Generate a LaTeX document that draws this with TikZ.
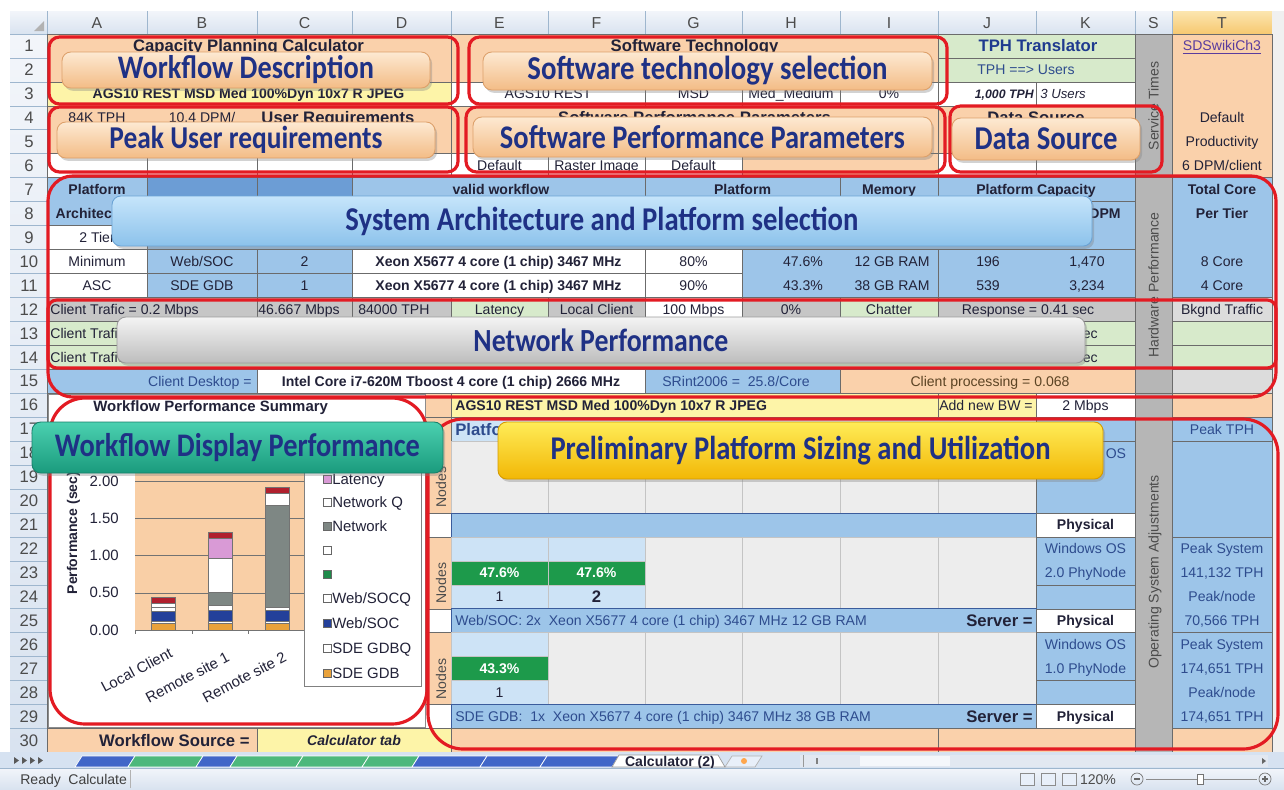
\documentclass[tikz,border=0pt]{standalone}
\usepackage{fontspec}
\usepackage{graphicx}
\setmainfont{Liberation Sans}
\newfontfamily\banfont{Carlito}
\usetikzlibrary{shadows}
\newdimen\pxu \pxu=0.02cm
\definecolor{peach}{HTML}{FAD1AB}
\definecolor{lyel}{HTML}{FDF4A8}
\definecolor{lgrn}{HTML}{D7EACB}
\definecolor{sblue}{HTML}{9DC5E9}
\definecolor{dblue}{HTML}{6C9DD5}
\definecolor{sgray}{HTML}{B6B6B6}
\definecolor{rgray}{HTML}{C6C6C6}
\definecolor{lgray}{HTML}{DCDCDC}
\definecolor{vlgray}{HTML}{EDEDED}
\definecolor{lblue}{HTML}{CDE3F6}
\definecolor{ggreen}{HTML}{1D9A4B}
\definecolor{txt}{HTML}{222238}
\definecolor{btxt}{HTML}{2E4C8E}
\definecolor{tphb}{HTML}{1F3A8F}
\definecolor{brn}{HTML}{5C4424}
\definecolor{annred}{HTML}{E31B23}
\definecolor{bantxt}{HTML}{1F3185}
\definecolor{hdrA}{HTML}{F2F5FA}
\definecolor{hdrB}{HTML}{D9E3F0}
\definecolor{hline}{HTML}{9EB6CE}
\definecolor{bord}{HTML}{6B6B6B}
\definecolor{lline}{HTML}{C4C4C4}
\definecolor{navyl}{HTML}{3B5C9C}
\definecolor{plotbg}{HTML}{F9CFA6}
\definecolor{linkc}{HTML}{5A3C9E}
\definecolor{tabbg}{HTML}{D6E2F1}
\definecolor{bpT}{HTML}{FDE9D2}\definecolor{bpB}{HTML}{F3BC86}\definecolor{bpD}{HTML}{DDA06A}
\definecolor{bbT}{HTML}{C6E5FB}\definecolor{bbB}{HTML}{8CC2EB}\definecolor{bbD}{HTML}{6AA3D5}
\definecolor{bgT}{HTML}{F4F4F4}\definecolor{bgB}{HTML}{BDBDBD}\definecolor{bgD}{HTML}{9C9C9C}
\definecolor{btT}{HTML}{4BD0B0}\definecolor{btB}{HTML}{1A9B7D}\definecolor{btD}{HTML}{17806A}
\definecolor{byT}{HTML}{FFEC58}\definecolor{byB}{HTML}{F2B705}\definecolor{byD}{HTML}{D49A00}
\definecolor{hTT}{HTML}{FCE6B0}\definecolor{hTB}{HTML}{F6C870}
\definecolor{cred}{HTML}{B0202E}\definecolor{cnavy}{HTML}{23409A}\definecolor{corange}{HTML}{E9A23B}
\definecolor{cgray}{HTML}{7E8784}\definecolor{cpink}{HTML}{D99AD6}\definecolor{cgreen}{HTML}{1E8A4A}
\definecolor{tabblue}{HTML}{4166C8}\definecolor{tabgreen}{HTML}{4DB87C}
\definecolor{scr}{HTML}{E2E8F1}\definecolor{thumb}{HTML}{F4F7FB}\definecolor{icon}{HTML}{E8EFF9}
\newcommand\rowT[1]{{10.05+23.95*#1}}
\newcommand\rowB[1]{{34+23.95*#1}}
\newcommand\rowC[1]{{22.025+23.95*#1}}
\def\cxA{47}\def\cxB{147}\def\cxC{257}\def\cxD{352}\def\cxE{451}\def\cxF{548}\def\cxG{645}
\def\cxH{742}\def\cxI{840}\def\cxJ{938}\def\cxK{1036}\def\cxS{1135}\def\cxT{1172}\def\cxZ{1272}
\newcommand\cfill[5]{\path[#1] (#2,\rowT{#4}) rectangle (#3,\rowB{#5});}
\newcounter{nn}
\newcommand\ct[4][]{\stepcounter{nn}\node[ct,#1] (t\arabic{nn}) at ({#2},\rowC{#3}) {#4};}
\newcommand\cxy[4][]{\stepcounter{nn}\node[ct,#1] (t\arabic{nn}) at ({#2},{#3}) {#4};}
\newcommand\banner[8]{\node[ban,#2,minimum width=#5\pxu,minimum height=#6\pxu] (#1) at (#3,#4) {\resizebox{#7\pxu}{!}{\scalebox{1}[1.16]{\banfont\bfseries #8}}};}
\newcommand\cbar[4]{\path[fill=#4,draw=black!55,line width=0.3pt] (#1,#2) rectangle ({#1+24},#3);}
\begin{document}
\begin{tikzpicture}[x=0.02cm,y=-0.02cm,
 ct/.style={inner sep=0pt,text height=5.7pt,text depth=0pt,font=\fontsize{8}{9}\selectfont,text=txt},
 bf/.style={font=\fontsize{8}{9}\selectfont\bfseries},
 hd/.style={font=\fontsize{9.5}{11}\selectfont\bfseries,text height=6.8pt},
 cb/.style={draw=bord,line width=0.35pt},
 cl/.style={draw=lline,line width=0.35pt},
 redbox/.style={draw=annred,line width=1.8pt},
 ban/.style={rounded corners=5pt,inner sep=0pt,text=bantxt,line width=0.5pt,
   drop shadow={shadow xshift=1.2pt,shadow yshift=-1.6pt,opacity=0.35}},
 bpeach/.style={top color=bpT,bottom color=bpB,draw=bpD},
 bblue/.style={top color=bbT,bottom color=bbB,draw=bbD},
 bgray/.style={top color=bgT,bottom color=bgB,draw=bgD},
 bteal/.style={top color=btT,bottom color=btB,draw=btD},
 byel/.style={top color=byT,bottom color=byB,draw=byD},
 hdtx/.style={inner sep=0pt,font=\fontsize{9}{10}\selectfont,text=black!70},
 vt/.style={rotate=90,text=black!70},
 xl/.style={rotate=28,anchor=north east,font=\fontsize{8.5}{9}\selectfont}]
\useasboundingbox (0,0) rectangle (1284,789);
\fill[white] (0,0) rectangle (1284,789);
% ---------- headers ----------
\fill[top color=hdrA,bottom color=hdrB] (10,11) rectangle (1272,34);
\fill[top color=hdrA,bottom color=hdrB] (10,34) rectangle (47,752);
\fill[top color=hTT,bottom color=hTB] (1172,11) rectangle (1272,34);
\fill[black!30] (44,31) -- (44,21) -- (34,31) -- cycle;
\foreach \x in {47,147,257,352,451,548,645,742,840,938,1036,1135,1172,1272} \draw[hline,line width=0.4pt] (\x,11) -- (\x,34);
\draw[hline,line width=0.5pt] (10,34) -- (1272,34);
\draw[hline,line width=0.5pt] (47,11) -- (47,752);
\foreach \r in {1,...,30} \draw[hline,line width=0.4pt] (10,\rowB{\r}) -- (47,\rowB{\r});
\foreach \l/\x in {A/97,B/202,C/304.5,D/401.5,E/499.5,F/596.5,G/693.5,H/791,I/889,J/987,K/1085.5,S/1153.5,T/1222}
  \node[hdtx] (ch\l) at (\x,23) {\l};
\foreach \r in {1,...,30} \node[hdtx,font=\fontsize{9.5}{10}\selectfont] (rh\r) at (29,\rowC{\r}) {\r};
\fill[black!6] (1272,11) rectangle (1284,752);
% ---------- rows 1-6 ----------
\cfill{fill=peach,cb}{\cxA}{\cxE}{1}{2}
\cfill{fill=peach,cb}{\cxE}{\cxJ}{1}{2}
\cfill{fill=lgrn,cb}{\cxJ}{\cxS}{1}{1}
\cfill{fill=lgrn,cb}{\cxJ}{\cxS}{2}{2}
\cfill{fill=sgray,cb}{\cxS}{\cxT}{1}{6}
\cfill{fill=peach,cb}{\cxT}{\cxZ}{1}{6}
\cfill{fill=lyel,cb}{\cxA}{\cxE}{3}{3}
\cfill{fill=white,cb}{\cxE}{\cxG}{3}{3}
\cfill{fill=white,cb}{\cxG}{\cxH}{3}{3}
\cfill{fill=white,cb}{\cxH}{\cxI}{3}{3}
\cfill{fill=white,cb}{\cxI}{\cxJ}{3}{3}
\cfill{fill=white,cb}{\cxJ}{\cxK}{3}{3}
\cfill{fill=white,cb}{\cxK}{\cxS}{3}{3}
\cfill{fill=peach,cb}{\cxA}{\cxE}{4}{5}
\cfill{fill=white,cb}{\cxA}{\cxB}{6}{6}
\cfill{fill=white,cb}{\cxB}{\cxC}{6}{6}
\cfill{fill=white,cb}{\cxC}{\cxD}{6}{6}
\cfill{fill=white,cb}{\cxD}{\cxE}{6}{6}
\cfill{fill=peach,cb}{\cxE}{\cxJ}{4}{5}
\cfill{fill=white,cb}{\cxE}{\cxF}{6}{6}
\cfill{fill=white,cb}{\cxF}{\cxG}{6}{6}
\cfill{fill=white,cb}{\cxG}{\cxH}{6}{6}
\cfill{fill=peach,cb}{\cxH}{\cxJ}{6}{6}
\cfill{fill=peach,cb}{\cxJ}{\cxS}{4}{5}
\cfill{fill=white,cb}{\cxJ}{\cxK}{6}{6}
\cfill{fill=white,cb}{\cxK}{\cxS}{6}{6}
% ---------- rows 7-11 ----------
\cfill{fill=sblue,cb}{\cxA}{\cxS}{7}{11}
\cfill{fill=sblue,cb}{\cxA}{\cxB}{7}{8}
\cfill{fill=dblue,cb}{\cxB}{\cxC}{7}{7}
\cfill{fill=dblue,cb}{\cxC}{\cxD}{7}{7}
\cfill{fill=sblue,cb}{\cxD}{\cxG}{7}{7}
\cfill{fill=sblue,cb}{\cxG}{\cxI}{7}{7}
\cfill{fill=sblue,cb}{\cxI}{\cxJ}{7}{7}
\cfill{fill=sblue,cb}{\cxJ}{\cxS}{7}{7}
\cfill{fill=white,cb}{\cxA}{\cxB}{9}{9}
\cfill{fill=white,cb}{\cxA}{\cxB}{10}{10}
\cfill{fill=white,cb}{\cxA}{\cxB}{11}{11}
\cfill{fill=sblue,cb}{\cxB}{\cxC}{10}{10}
\cfill{fill=sblue,cb}{\cxB}{\cxC}{11}{11}
\cfill{fill=sblue,cb}{\cxC}{\cxD}{10}{10}
\cfill{fill=sblue,cb}{\cxC}{\cxD}{11}{11}
\cfill{fill=white,cb}{\cxD}{\cxG}{10}{10}
\cfill{fill=white,cb}{\cxD}{\cxG}{11}{11}
\cfill{fill=white,cb}{\cxG}{\cxH}{10}{10}
\cfill{fill=white,cb}{\cxG}{\cxH}{11}{11}
\cfill{fill=sblue,cb}{\cxH}{\cxJ}{10}{11}
\cfill{fill=sblue,cb}{\cxJ}{\cxS}{10}{11}
\cfill{fill=sgray,cb}{\cxS}{\cxT}{7}{15}
\cfill{fill=sblue,cb}{\cxT}{\cxZ}{7}{11}
% ---------- rows 12-15 ----------
\cfill{fill=rgray,cb}{\cxA}{\cxC}{12}{12}
\cfill{fill=rgray,cb}{\cxC}{\cxD}{12}{12}
\cfill{fill=rgray,cb}{\cxD}{\cxE}{12}{12}
\cfill{fill=lgrn,cb}{\cxE}{\cxF}{12}{12}
\cfill{fill=rgray,cb}{\cxF}{\cxG}{12}{12}
\cfill{fill=white,cb}{\cxG}{\cxH}{12}{12}
\cfill{fill=rgray,cb}{\cxH}{\cxI}{12}{12}
\cfill{fill=lgrn,cb}{\cxI}{\cxJ}{12}{12}
\cfill{fill=rgray,cb}{\cxJ}{\cxS}{12}{12}
\cfill{fill=lgray,cb}{\cxT}{\cxZ}{12}{12}
\cfill{fill=lgrn,cb}{\cxA}{\cxS}{13}{13}
\cfill{fill=lgrn,cb}{\cxA}{\cxS}{14}{14}
\cfill{fill=lgrn,cb}{\cxT}{\cxZ}{13}{13}
\cfill{fill=lgrn,cb}{\cxT}{\cxZ}{14}{14}
\cfill{fill=sblue,cb}{\cxA}{\cxC}{15}{15}
\cfill{fill=white,cb}{\cxC}{\cxG}{15}{15}
\cfill{fill=sblue,cb}{\cxG}{\cxI}{15}{15}
\cfill{fill=peach,cb}{\cxI}{\cxS}{15}{15}
\cfill{fill=lgray,cb}{\cxT}{\cxZ}{15}{15}
% ---------- rows 16-30 ----------
\cfill{fill=white,cb}{\cxA}{425}{16}{29}
\cfill{fill=peach,cb}{425}{\cxE}{16}{16}
\cfill{fill=peach,cb}{425}{\cxE}{17}{20}
\cfill{fill=white,cb}{425}{\cxE}{21}{21}
\cfill{fill=peach,cb}{425}{\cxE}{22}{24}
\cfill{fill=white,cb}{425}{\cxE}{25}{25}
\cfill{fill=peach,cb}{425}{\cxE}{26}{28}
\cfill{fill=white,cb}{425}{\cxE}{29}{29}
\cfill{fill=lyel,cb}{\cxE}{\cxJ}{16}{16}
\cfill{fill=lyel,cb}{\cxJ}{\cxK}{16}{16}
\cfill{fill=white,cb}{\cxK}{\cxS}{16}{16}
\cfill{fill=sgray,cb}{\cxS}{\cxT}{16}{30}
\cfill{fill=peach,cb}{\cxT}{\cxZ}{16}{16}
\cfill{fill=lblue,cb}{\cxE}{\cxK}{17}{17}
\cfill{fill=sblue,cb}{\cxK}{\cxS}{17}{17}
\foreach \a/\b in {451/548,548/645,645/742,742/840,840/938,938/1036}{\cfill{fill=vlgray,cl}{\a}{\b}{18}{20}}
\cfill{fill=sblue,cb}{\cxK}{\cxS}{18}{20}
\cfill{fill=sblue,draw=navyl,line width=0.5pt}{\cxE}{\cxK}{21}{21}
\cfill{fill=white,cb}{\cxK}{\cxS}{21}{21}
\cfill{fill=lblue,cl}{\cxE}{\cxF}{22}{22}
\cfill{fill=lblue,cl}{\cxF}{\cxG}{22}{22}
\cfill{fill=ggreen,cl}{\cxE}{\cxF}{23}{23}
\cfill{fill=ggreen,cl}{\cxF}{\cxG}{23}{23}
\cfill{fill=lblue,cl}{\cxE}{\cxF}{24}{24}
\cfill{fill=lblue,cl}{\cxF}{\cxG}{24}{24}
\foreach \a/\b in {645/742,742/840,840/938,938/1036}{\cfill{fill=vlgray,cl}{\a}{\b}{22}{24}}
\cfill{fill=sblue,cb}{\cxK}{\cxS}{22}{23}
\cfill{fill=sblue,cb}{\cxK}{\cxS}{24}{24}
\cfill{fill=sblue,draw=navyl,line width=0.5pt}{\cxE}{\cxK}{25}{25}
\cfill{fill=white,cb}{\cxK}{\cxS}{25}{25}
\cfill{fill=lblue,cl}{\cxE}{\cxF}{26}{26}
\cfill{fill=ggreen,cl}{\cxE}{\cxF}{27}{27}
\cfill{fill=lblue,cl}{\cxE}{\cxF}{28}{28}
\foreach \a/\b in {548/645,645/742,742/840,840/938,938/1036}{\cfill{fill=vlgray,cl}{\a}{\b}{26}{28}}
\cfill{fill=sblue,cb}{\cxK}{\cxS}{26}{27}
\cfill{fill=sblue,cb}{\cxK}{\cxS}{28}{28}
\cfill{fill=sblue,draw=navyl,line width=0.5pt}{\cxE}{\cxK}{29}{29}
\cfill{fill=white,cb}{\cxK}{\cxS}{29}{29}
\cfill{fill=sblue,cb}{\cxT}{\cxZ}{17}{17}
\cfill{fill=sblue,cb}{\cxT}{\cxZ}{18}{21}
\cfill{fill=sblue,cb}{\cxT}{\cxZ}{22}{25}
\cfill{fill=sblue,cb}{\cxT}{\cxZ}{26}{29}
\cfill{fill=peach,cb}{\cxA}{\cxC}{30}{30}
\cfill{fill=lyel,cb}{\cxC}{\cxE}{30}{30}
\cfill{fill=peach,cb}{\cxE}{\cxJ}{30}{30}
\cfill{fill=peach,cb}{\cxJ}{\cxS}{30}{30}
\cfill{fill=peach,cb}{\cxT}{\cxZ}{30}{30}
% ---------- texts upper ----------
\ct[hd]{248.5}{1}{Capacity Planning Calculator}
\ct[hd]{694.5}{1}{Software Technology}
\ct[hd,text=tphb]{1038}{1}{TPH Translator}
\ct[anchor=west,text=btxt]{977}{2}{TPH ==> Users}
\ct[text=linkc]{1222}{1}{\underline{SDSwikiCh3}}
\ct[bf]{248.5}{3}{AGS10 REST MSD Med 100\%Dyn 10x7 R JPEG}
\ct{548}{3}{AGS10 REST}
\ct{693.5}{3}{MSD}
\ct{791}{3}{Med\_Medium}
\ct{889}{3}{0\%}
\ct[anchor=east,font=\fontsize{7}{8}\selectfont\bfseries\itshape]{1034}{3}{1,000 TPH}
\ct[anchor=west,font=\fontsize{7.5}{8}\selectfont\itshape]{1040}{3}{3 Users}
\ct{97}{4}{84K TPH}
\ct{202}{4}{10.4 DPM/}
\ct[hd]{338}{4}{User Requirements}
\ct[hd]{694.5}{4}{Software Performance Parameters}
\ct[hd]{1036}{4}{Data Source}
\ct{499.5}{6}{Default}
\ct{596.5}{6}{Raster Image}
\ct{693.5}{6}{Default}
\ct{1222}{4}{Default}
\ct{1222}{5}{Productivity}
\ct{1222}{6}{6 DPM/client}
\ct[bf]{97}{7}{Platform}
\ct[bf]{97}{8}{Architecture}
\ct[bf]{501}{7}{valid workflow}
\ct[bf]{742.5}{7}{Platform}
\ct[bf]{889}{7}{Memory}
\ct[bf]{1036}{7}{Platform Capacity}
\ct[bf,anchor=east]{1121}{8}{DPM}
\ct[bf]{1222}{7}{Total Core}
\ct[bf]{1222}{8}{Per Tier}
\ct{97}{9}{2 Tier}
\ct{97}{10}{Minimum}
\ct{202}{10}{Web/SOC}
\ct{304.5}{10}{2}
\ct[bf]{498.5}{10}{Xeon X5677 4 core (1 chip) 3467 MHz}
\ct{693.5}{10}{80\%}
\ct{803}{10}{47.6\%}
\ct{892}{10}{12 GB RAM}
\ct{988}{10}{196}
\ct{1087}{10}{1,470}
\ct{1222}{10}{8 Core}
\ct{97}{11}{ASC}
\ct{202}{11}{SDE GDB}
\ct{304.5}{11}{1}
\ct[bf]{498.5}{11}{Xeon X5677 4 core (1 chip) 3467 MHz}
\ct{693.5}{11}{90\%}
\ct{803}{11}{43.3\%}
\ct{892}{11}{38 GB RAM}
\ct{988}{11}{539}
\ct{1087}{11}{3,234}
\ct{1222}{11}{4 Core}
\ct[anchor=west]{50}{12}{Client Trafic = 0.2 Mbps}
\ct[anchor=east]{340}{12}{46.667 Mbps}
\ct[anchor=west]{358}{12}{84000 TPH}
\ct{499.5}{12}{Latency}
\ct{596.5}{12}{Local Client}
\ct{693.5}{12}{100 Mbps}
\ct{791}{12}{0\%}
\ct{889}{12}{Chatter}
\ct{1028}{12}{Response = 0.41 sec}
\ct{1222}{12}{Bkgnd Traffic}
\ct[anchor=west]{50}{13}{Client Trafic}
\ct[anchor=west]{50}{14}{Client Trafic}
\ct[anchor=east]{1098}{13}{sec}
\ct[anchor=east]{1098}{14}{sec}
\ct[anchor=east,text=btxt]{252}{15}{Client Desktop =}
\ct[bf]{451}{15}{Intel Core i7-620M Tboost 4 core (1 chip) 2666 MHz}
\ct[text=btxt]{736}{15}{SRint2006 =\ \ 25.8/Core}
\ct[text=brn]{990}{15}{Client processing = 0.068}
\cxy[vt]{1153.5}{106}{Service Times}
\cxy[vt]{1153.5}{285}{Hardware Performance}
\cxy[vt]{1153.5}{572}{Operating System Adjustments}
% ---------- texts lower ----------
\ct[bf,anchor=west]{455}{16}{AGS10 REST MSD Med 100\%Dyn 10x7 R JPEG}
\ct[anchor=east]{1033}{16}{Add new BW =}
\ct{1085.5}{16}{2 Mbps}
\ct[hd,anchor=west,text=btxt]{455}{17}{Platform}
\ct[text=btxt]{1222}{17}{Peak TPH}
\ct[text=btxt]{1085.5}{18}{Windows OS}
\ct[bf]{1085.5}{21}{Physical}
\ct[text=btxt]{1085.5}{22}{Windows OS}
\ct[text=btxt]{1085.5}{23}{2.0 PhyNode}
\ct[bf]{1085.5}{25}{Physical}
\ct[text=btxt]{1085.5}{26}{Windows OS}
\ct[text=btxt]{1085.5}{27}{1.0 PhyNode}
\ct[bf]{1085.5}{29}{Physical}
\ct[bf,text=white]{499.5}{23}{47.6\%}
\ct[bf,text=white]{596.5}{23}{47.6\%}
\ct{499.5}{24}{1}
\ct[hd]{596.5}{24}{2}
\ct[bf,text=white]{499.5}{27}{43.3\%}
\ct{499.5}{28}{1}
\ct[anchor=west,text=btxt]{455}{25}{Web/SOC: 2x\ \ Xeon X5677 4 core (1 chip) 3467 MHz 12 GB RAM}
\ct[hd,anchor=east]{1033}{25}{Server =}
\ct[anchor=west,text=btxt]{455}{29}{SDE GDB:\ \ 1x\ \ Xeon X5677 4 core (1 chip) 3467 MHz 38 GB RAM}
\ct[hd,anchor=east]{1033}{29}{Server =}
\ct[text=btxt]{1222}{22}{Peak System}
\ct[text=btxt]{1222}{23}{141,132 TPH}
\ct[text=btxt]{1222}{24}{Peak/node}
\ct[text=btxt]{1222}{25}{70,566 TPH}
\ct[text=btxt]{1222}{26}{Peak System}
\ct[text=btxt]{1222}{27}{174,651 TPH}
\ct[text=btxt]{1222}{28}{Peak/node}
\ct[text=btxt]{1222}{29}{174,651 TPH}
\cxy[vt]{441}{487}{Nodes}
\cxy[vt]{441}{583}{Nodes}
\cxy[vt]{441}{679}{Nodes}
\ct[hd,anchor=east]{250}{30}{Workflow Source =}
\ct[font=\fontsize{8}{9}\selectfont\bfseries\itshape]{354}{30}{Calculator tab}
% ---------- chart ----------
\path[fill=white,draw=black!45,line width=0.4pt] (48,394) rectangle (425,727);
\cxy[anchor=west,font=\fontsize{8.5}{9}\selectfont\bfseries]{93}{406}{Workflow Performance Summary}
\fill[plotbg] (135,444) rectangle (305,630);
\foreach \v in {0,1,2,3,4} \draw[black!55,line width=0.35pt] (135,{630-37.2*\v}) -- (305,{630-37.2*\v});
\foreach \x in {135,192,248,305} \draw[black!55,line width=0.35pt] (\x,630) -- (\x,634);
\cxy[anchor=east,font=\fontsize{8.5}{9}\selectfont]{119}{630}{0.00}
\cxy[anchor=east,font=\fontsize{8.5}{9}\selectfont]{119}{592.8}{0.50}
\cxy[anchor=east,font=\fontsize{8.5}{9}\selectfont]{119}{555.6}{1.00}
\cxy[anchor=east,font=\fontsize{8.5}{9}\selectfont]{119}{518.4}{1.50}
\cxy[anchor=east,font=\fontsize{8.5}{9}\selectfont]{119}{481.2}{2.00}
\cxy[bf,rotate=90]{72}{533}{Performance (sec)}
\cbar{151}{623}{630}{corange}\cbar{151}{621}{623}{white}\cbar{151}{611}{621}{cnavy}
\cbar{151}{607}{611}{white}\cbar{151}{603}{607}{white}\cbar{151}{597}{603}{cred}
\cbar{208}{623}{630}{corange}\cbar{208}{621}{623}{white}\cbar{208}{610}{621}{cnavy}
\cbar{208}{605}{610}{white}\cbar{208}{592}{605}{cgray}\cbar{208}{558}{592}{white}
\cbar{208}{538}{558}{cpink}\cbar{208}{532}{538}{cred}
\cbar{265}{623}{630}{corange}\cbar{265}{621}{623}{white}\cbar{265}{610}{621}{cnavy}
\cbar{265}{607}{610}{white}\cbar{265}{505}{607}{cgray}\cbar{265}{493}{505}{white}
\cbar{265}{487}{493}{cred}
\cxy[xl]{169}{647}{Local Client}
\cxy[xl]{226}{651}{Remote site 1}
\cxy[xl]{283}{651}{Remote site 2}
\path[fill=white,draw=black!50,line width=0.4pt] (304,456) rectangle (421,686);
\foreach \y/\c/\t in {479/cpink/Latency,502/white/Network Q,526/cgray/Network,550/white/,574/cgreen/,598/white/{Web/SOCQ},623/cnavy/{Web/SOC},648/white/SDE GDBQ,673/corange/SDE GDB}{
  \path[fill=\c,draw=black!60,line width=0.3pt] (323,{\y-4}) rectangle (331,{\y+4});
  \cxy[anchor=west,font=\fontsize{8.5}{9}\selectfont]{332}{\y}{\t}}
% ---------- tab bar & status bar ----------
\fill[tabbg] (0,752) rectangle (1284,768);
\foreach \x in {14,22,30,38} \fill[black!65] (\x,757) -- (\x,764) -- ({\x+5},760.5) -- cycle;
\foreach \a/\b/\c in {75/128/tabblue,128/196/tabgreen,196/230/tabblue,230/296/tabgreen,296/362/tabgreen,362/412/tabgreen,412/480/tabblue,480/540/tabblue,540/612/tabblue}
  \path[fill=\c,draw=white,line width=0.4pt] (\a,767) -- ({\a+7},756) -- ({\b+7},756) -- (\b,767) -- cycle;
\path[fill=white,draw=black!40,line width=0.4pt] (612,767) -- (619,755) -- (718,755) -- (725,767) -- cycle;
\node[ct,font=\fontsize{8}{9}\selectfont\bfseries] (tabcalc) at (670,761.5) {\underline{Calculator (2)}};
\path[fill=icon,draw=black!30,line width=0.4pt] (725,767) -- (732,756) -- (762,756) -- (755,767) -- cycle;
\fill[orange!70] (744,761) circle (3);
\fill[scr] (800,755) rectangle (1268,767);
\fill[thumb] (860,756) rectangle (950,766);
\draw[black!40,line width=0.4pt] (803,755) -- (803,767);
\fill[black!50] (816,758) rectangle (818,764);
\fill[black!60] (1262,758) -- (1262,764) -- (1266,761) -- cycle;
\fill[top color=hdrA,bottom color=hdrB] (0,768) rectangle (1284,789);
\draw[hline,line width=0.4pt] (0,768) -- (1284,768);
\node[ct,anchor=west,text=black!75] (st1) at (20,779) {Ready};
\node[ct,anchor=west,text=black!75] (st2) at (68,779) {Calculate};
\draw[black!30,line width=0.4pt] (130,770) -- (130,788);
\foreach \x in {1020,1041,1062} \path[fill=icon,draw=black!45,line width=0.3pt] (\x,773) rectangle ({\x+14},785);
\node[ct,text=black!70] (st3) at (1098,779) {120\%};
\draw[black!55,line width=0.4pt] (1137,779) circle (6);
\draw[black!60,line width=0.6pt] (1134,779) -- (1140,779);
\draw[black!45,line width=0.5pt] (1146,779) -- (1257,779);
\path[fill=white,draw=black!55,line width=0.3pt] (1197,774) rectangle (1203,784);
\draw[black!55,line width=0.4pt] (1265,779) circle (6);
\draw[black!60,line width=0.6pt] (1262,779) -- (1268,779) (1265,776) -- (1265,782);
% ---------- red annotation boxes ----------
\draw[redbox,rounded corners=6pt] (49,37) rectangle (458,104);
\draw[redbox,rounded corners=6pt] (49,107) rectangle (458,172);
\draw[redbox,rounded corners=6pt] (469,37) rectangle (947,104);
\draw[redbox,rounded corners=6pt] (466,107) rectangle (945,172);
\draw[redbox,rounded corners=6pt] (950,106) rectangle (1162,172);
\draw[redbox,rounded corners=14pt] (48,176) rectangle (1276,397);
\draw[redbox,rounded corners=5pt] (48,300) rectangle (1276,368);
\draw[redbox,rounded corners=20pt] (50,398) rectangle (427,724);
\draw[redbox,rounded corners=20pt] (428,419) rectangle (1278,749);
% ---------- banners ----------
\banner{b1}{bpeach}{246}{70}{368}{36}{256}{Workflow Description}
\banner{b2}{bpeach}{246}{140}{378}{36}{273}{Peak User requirements}
\banner{b3}{bpeach}{707.5}{71}{449}{38}{360}{Software technology selection}
\banner{b4}{bpeach}{702.5}{137}{459}{40}{405}{Software Performance Parameters}
\banner{b5}{bpeach}{1046}{139}{188}{42}{143}{Data Source}
\banner{b6}{bblue}{602}{221}{980}{50}{513}{System Architecture and Platform selection}
\banner{b7}{bgray}{601}{340}{968}{46}{255}{Network Performance}
\banner{b8}{bteal}{237.5}{447.5}{411}{51}{365}{Workflow Display Performance}
\banner{b9}{byel}{800.5}{450.5}{605}{57}{500}{Preliminary Platform Sizing and Utilization}
\end{tikzpicture}
\end{document}
